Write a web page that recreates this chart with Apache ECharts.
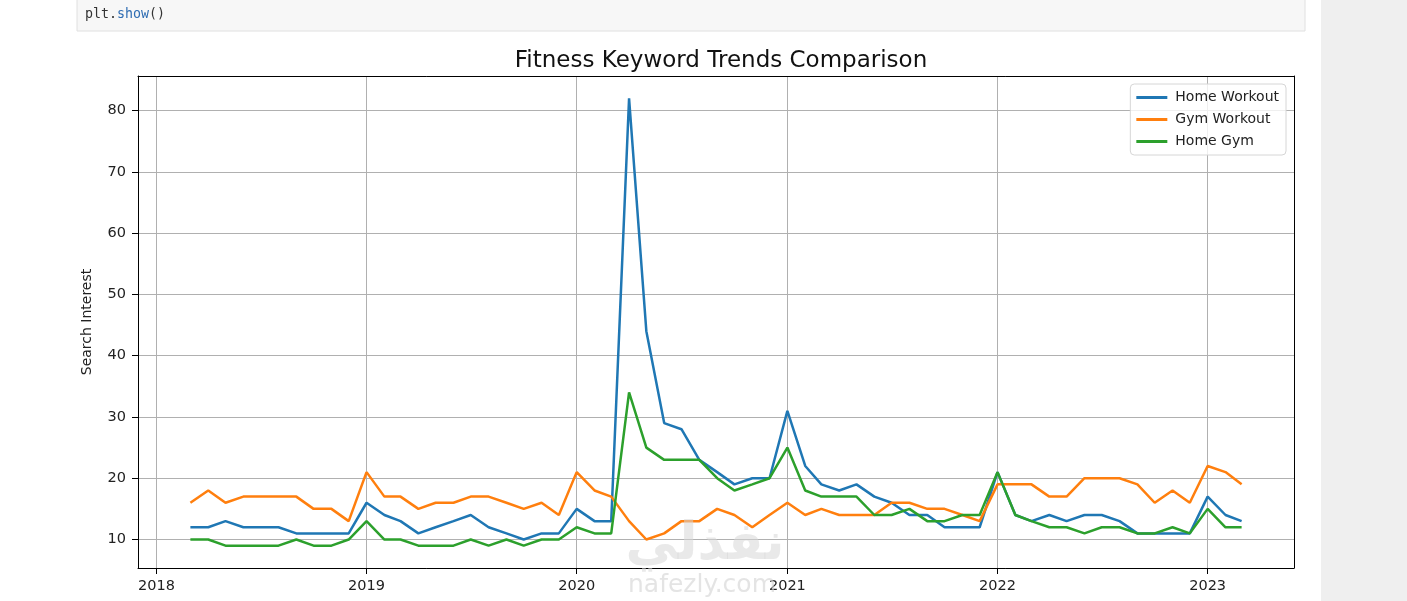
<!DOCTYPE html>
<html>
<head>
<meta charset="utf-8">
<script src="https://cdn.jsdelivr.net/npm/echarts@6/dist/echarts.min.js"></script>
<style>
html,body{margin:0;padding:0;background:#fff;}
#chart{width:1407px;height:601px;}
</style>
</head>
<body>
<div id="chart"></div>
<script>
// Monthly categories: March 2018 .. March 2023
var startYear = 2018, startMonth = 3, monthCount = 61;
var months = [];
for (var i = 0; i < monthCount; i++) {
  var m = startMonth - 1 + i;
  var y = startYear + Math.floor(m / 12);
  var mm = (m % 12) + 1;
  months.push(y + '-' + (mm < 10 ? '0' + mm : mm) + '-01');
}
var seriesNames = ['Home Workout', 'Gym Workout', 'Home Gym'];
var homeWorkout = [
  12,12,13,12,12,12,11,11,11,11,
  16,14,13,11,12,13,14,12,11,10,11,11,
  15,13,13,82,44,29,28,23,21,19,20,20,
  31,22,19,18,19,17,16,14,14,12,12,12,
  21,14,13,14,13,14,14,13,11,11,11,11,
  17,14,13
];
var gymWorkout = [
  16,18,16,17,17,17,17,15,15,13,
  21,17,17,15,16,16,17,17,16,15,16,14,
  21,18,17,13,10,11,13,13,15,14,12,14,
  16,14,15,14,14,14,16,16,15,15,14,13,
  19,19,19,17,17,20,20,20,19,16,18,16,
  22,21,19
];
var homeGym = [
  10,10,9,9,9,9,10,9,9,10,
  13,10,10,9,9,9,10,9,10,9,10,10,
  12,11,11,34,25,23,23,23,20,18,19,20,
  25,18,17,17,17,14,14,15,13,13,14,14,
  21,14,13,12,12,11,12,12,11,11,12,11,
  15,12,12
];
var colors = ['#1f77b4', '#ff7f0e', '#2ca02c'];
var xMin = '2017-11-30', xMax = '2023-05-31';
var yMin = 5.35, yMax = 85.65;

function pairs(vals) {
  return vals.map(function (v, i) { return [months[i], v]; });
}
var allVals = [homeWorkout, gymWorkout, homeGym];

var chart = echarts.init(document.getElementById('chart'), null, {renderer: 'canvas'});
var font = 'DejaVu Sans';
var yearMs = 365 * 24 * 3600 * 1000;

var option = {
  backgroundColor: '#ffffff',
  animation: false,
  title: {
    text: 'Fitness Keyword Trends Comparison',
    left: 716, top: 45, textAlign: 'center',
    textStyle: {fontFamily: font, fontSize: 23, fontWeight: 'normal', color: '#111'}
  },
  legend: {
    orient: 'vertical', right: 121, top: 84,
    data: seriesNames,
    icon: 'rect', itemWidth: 31, itemHeight: 3, itemGap: 5,
    padding: [5, 7, 5, 6],
    backgroundColor: 'rgba(255,255,255,0.8)',
    borderColor: '#d6d6d6', borderWidth: 1, borderRadius: 4,
    textStyle: {fontFamily: font, fontSize: 14, color: '#222', padding: [0, 0, 0, 3], lineHeight: 17}
  },
  grid: {left: 138, top: 76, right: 113, bottom: 33, containLabel: false},
  xAxis: [{
    type: 'time', min: xMin, max: xMax,
    splitNumber: 5, minInterval: yearMs,
    axisLine: {show: true, onZero: false, lineStyle: {color: '#000', width: 1}},
    axisTick: {show: true, length: 6, lineStyle: {color: '#000'}},
    axisLabel: {
      fontFamily: font, fontSize: 14.5, color: '#222', margin: 11,
      showMinLabel: false, showMaxLabel: false,
      formatter: function (v) { return String(new Date(v).getFullYear()); }
    },
    splitLine: {show: true, lineStyle: {color: '#b0b0b0', width: 1}},
    minorTick: {show: false}
  }, {
    type: 'time', min: xMin, max: xMax, position: 'top',
    axisLine: {show: true, onZero: false, lineStyle: {color: '#000', width: 1}},
    axisTick: {show: false}, axisLabel: {show: false}, splitLine: {show: false}
  }],
  yAxis: [{
    type: 'value', min: yMin, max: yMax, splitNumber: 8,
    name: 'Search Interest', nameLocation: 'middle', nameGap: 44, nameRotate: 90,
    nameTextStyle: {fontFamily: font, fontSize: 14, color: '#222'},
    axisLine: {show: true, lineStyle: {color: '#000', width: 1}},
    axisTick: {show: true, length: 6, lineStyle: {color: '#000'}},
    axisLabel: {fontFamily: font, fontSize: 14.5, color: '#222', margin: 12, showMinLabel: false, showMaxLabel: false},
    splitLine: {show: true, lineStyle: {color: '#b0b0b0', width: 1}}
  }, {
    type: 'value', min: yMin, max: yMax, position: 'right',
    axisLine: {show: true, lineStyle: {color: '#000', width: 1}},
    axisTick: {show: false}, axisLabel: {show: false}, splitLine: {show: false}
  }],
  series: seriesNames.map(function (n, i) {
    return {
      name: n, type: 'line', xAxisIndex: 0, yAxisIndex: 0,
      data: pairs(allVals[i]),
      symbol: 'none', showSymbol: false,
      lineStyle: {color: colors[i], width: 2.5},
      itemStyle: {color: colors[i]},
      z: 2 + i
    };
  }),
  graphic: [
    {type: 'rect', shape: {x: 77, y: -1, width: 1228, height: 32}, style: {fill: '#f7f7f7', stroke: '#e0e0e0', lineWidth: 1}, z: -1},
    {type: 'text', x: 85, y: 15, style: {
      text: '{a|plt.}{b|show}{a|()}', verticalAlign: 'middle',
      rich: {
        a: {fontFamily: 'DejaVu Sans Mono', fontSize: 13.3, fill: '#333'},
        b: {fontFamily: 'DejaVu Sans Mono', fontSize: 13.3, fill: '#2f6db3'}
      }
    }},
    {type: 'rect', shape: {x: 1321, y: 0, width: 86, height: 601}, style: {fill: '#efefef'}, z: -1},
    {type: 'text', x: 705, y: 545, z: 50, style: {
      text: 'نفذلي', fontFamily: 'DejaVu Sans', fontSize: 52, fontWeight: 'bold',
      fill: 'rgba(215,215,215,0.55)', align: 'center', verticalAlign: 'middle'
    }},
    {type: 'text', x: 702, y: 585, z: 50, style: {
      text: 'nafezly.com', fontFamily: 'DejaVu Sans', fontSize: 25,
      fill: 'rgba(210,210,210,0.6)', align: 'center', verticalAlign: 'middle'
    }}
  ]
};
chart.setOption(option);
</script>
</body>
</html>
